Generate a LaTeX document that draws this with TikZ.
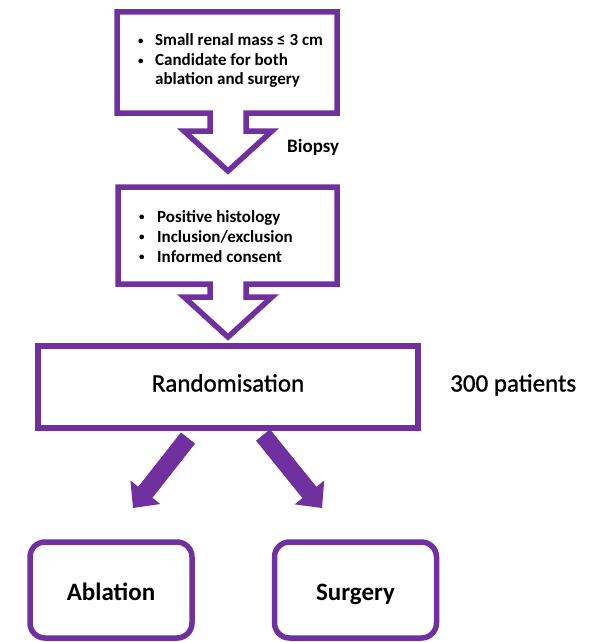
\documentclass[tikz,border=0pt]{standalone}
\usepackage{fontspec}
\setmainfont{Carlito}
\newfontfamily\medfont{Carlito}[FakeBold=1]
\usetikzlibrary{calc}
\definecolor{vio}{HTML}{7030A0}
\newcommand\fatarrow[2]{%
  \coordinate (#1base) at ($(#2)!20pt!(#1)$);
  \fill[vio] ($(#1)!9pt!90:(#2)$) -- ($(#1base)!9pt!90:(#2)$) -- ($(#1base)!19pt!90:(#2)$)
    -- (#2) -- ($(#1base)!19pt!-90:(#2)$) -- ($(#1base)!9pt!-90:(#2)$) -- ($(#1)!9pt!-90:(#2)$) -- cycle;}
\newcommand\bul[1]{\makebox[#1][l]{\hspace{1pt}\raisebox{1.5pt}{\fontsize{11}{11}\selectfont•}}}
\begin{document}
\begin{tikzpicture}[x=1pt,y=-1pt,
  callout/.style={draw=vio,line width=5.5pt,fill=white,line join=miter},
  boxnode/.style={draw=vio,line width=5.5pt,inner sep=0pt,fill=white},
  bigtext/.style={font=\fontsize{25}{30}\selectfont},
  bullets/.style={anchor=base west,inner sep=0pt,font=\fontsize{17}{19.5}\selectfont\bfseries},
  sidelabel/.style={anchor=base west,inner sep=0pt}]
\useasboundingbox (0,0) rectangle (600,642);
% top callout
\draw[callout] (117,12) -- (337,12) -- (337,113) -- (246,113) -- (246,131) -- (272,131)
  -- (228,171) -- (184,131) -- (210,131) -- (210,113) -- (117,113) -- cycle;
\node[bullets] (crit) at (137,46) {\begin{tabular}[t]{@{}l@{}l@{}}
  \bul{18pt}&Small renal mass ≤ 3 cm\\
  \bul{18pt}&Candidate for both\\
  &ablation and surgery\end{tabular}};
\node[sidelabel,font=\fontsize{19}{23}\selectfont\bfseries] (biopsy) at (287,152) {Biopsy};
% second callout
\draw[callout] (118,187) -- (337,187) -- (337,284) -- (246,284) -- (246,297) -- (272,297)
  -- (228,337) -- (184,297) -- (210,297) -- (210,284) -- (118,284) -- cycle;
\node[bullets,font=\fontsize{17}{20}\selectfont\bfseries] (elig) at (138,222) {\begin{tabular}[t]{@{}l@{}l@{}}
  \bul{19pt}&Positive histology\\
  \bul{19pt}&Inclusion/exclusion\\
  \bul{19pt}&Informed consent\end{tabular}};
% randomisation
\node[boxnode,font=\fontsize{25}{30}\selectfont\medfont,minimum width=380pt,minimum height=82pt,text height=16pt,text depth=7pt]
  (rand) at (228,387) {Randomisation};
\node[sidelabel,font=\fontsize{25}{30}\selectfont\medfont] (npat) at (450,391.5) {300 patients};
% arrows
\coordinate (la) at (188,438); \coordinate (lb) at (133,508);
\coordinate (ra) at (263,435); \coordinate (rb) at (322,508);
\fatarrow{la}{lb}
\fatarrow{ra}{rb}
% outcome boxes
\node[boxnode,font=\fontsize{25}{30}\selectfont\bfseries,rounded corners=15pt,
  minimum width=162pt,minimum height=96pt,text height=20pt,text depth=0pt] (abl) at (111,590) {Ablation};
\node[boxnode,font=\fontsize{25}{30}\selectfont\bfseries,rounded corners=15pt,
  minimum width=162pt,minimum height=96pt,text height=20pt,text depth=0pt] (surg) at (355.5,590) {Surgery};
\end{tikzpicture}
\end{document}
